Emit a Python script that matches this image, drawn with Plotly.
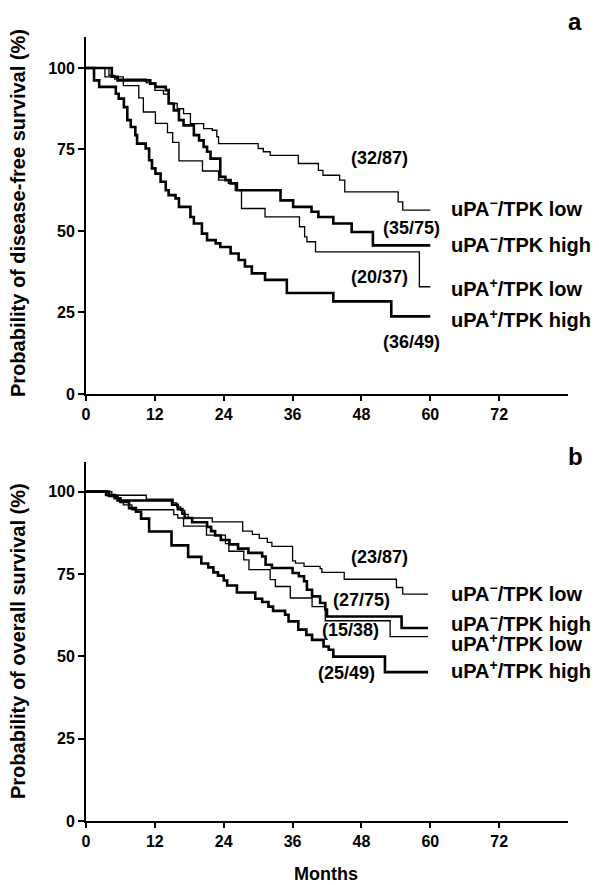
import plotly.graph_objects as go

# ---------------- DATA ----------------
# Panel a: disease-free survival (months, %)
a_neglow_t = [0, 4.0, 5.0, 10.5, 12.0, 13.5, 14.4, 15.9, 17.0, 18.2, 20.5, 22.0, 22.8, 23.1, 30.0, 30.9, 32.1, 37.0, 40.5, 41.3, 44.2, 45.1, 54.4, 55.2, 60.0]
a_neglow_s = [100, 97.7, 96.6, 95.4, 93.1, 92.0, 89.1, 87.5, 86.0, 82.9, 81.4, 80.9, 78.9, 76.8, 75.3, 74.3, 73.2, 70.7, 68.6, 67.1, 65.6, 62.0, 58.9, 56.4, 56.4]

a_neghigh_t = [0, 4.5, 5.5, 11.2, 12.1, 13.9, 14.4, 15.3, 16.2, 17.0, 18.8, 19.7, 20.5, 21.1, 21.7, 23.4, 24.3, 25.2, 26.3, 33.9, 36.1, 39.3, 40.5, 43.1, 46.3, 50.0, 60.0]
a_neghigh_s = [100, 97.3, 96.2, 95.2, 94.2, 93.2, 89.1, 87.0, 84.0, 82.4, 79.4, 77.8, 75.8, 74.3, 72.2, 66.6, 65.6, 64.6, 62.5, 59.4, 57.4, 55.9, 54.3, 52.3, 49.7, 45.6, 45.6]

a_poslow_t = [0, 3.3, 6.5, 9.2, 10.0, 12.1, 14.2, 15.1, 16.2, 20.3, 23.1, 24.8, 26.0, 27.1, 31.2, 37.2, 38.1, 38.5, 40.0, 58.1, 60.0]
a_poslow_s = [100, 97.3, 94.6, 90.8, 86.5, 83.0, 80.2, 77.2, 71.5, 68.4, 65.6, 64.6, 62.5, 56.9, 54.3, 51.3, 48.2, 46.7, 43.6, 32.9, 32.9]

a_poshigh_t = [0, 1.4, 2.3, 5.2, 5.7, 6.6, 7.2, 7.8, 8.6, 8.9, 10.4, 11.0, 11.5, 12.1, 13.0, 13.9, 14.4, 15.6, 16.2, 18.2, 18.8, 20.2, 21.1, 22.6, 23.4, 25.2, 26.6, 27.7, 28.9, 31.2, 35.0, 43.1, 53.2, 60.0]
a_poshigh_s = [100, 96.2, 94.2, 92.1, 90.6, 88.0, 84.0, 81.9, 79.4, 76.8, 75.3, 71.7, 69.2, 67.6, 65.1, 62.5, 61.0, 60.0, 57.4, 54.3, 52.3, 49.2, 47.2, 46.2, 45.1, 43.1, 41.1, 39.1, 37.0, 35.0, 31.0, 28.4, 23.8, 23.8]

# Panel b: overall survival (months, %)
b_neglow_t = [0, 4.0, 10.5, 15.2, 15.8, 16.5, 17.2, 17.8, 22.0, 27.3, 29.0, 30.2, 31.6, 32.4, 36.0, 36.5, 38.0, 40.8, 41.1, 45.0, 54.1, 55.2, 59.6]
b_neglow_s = [100, 98.9, 97.7, 96.6, 95.4, 94.3, 93.1, 92.0, 90.8, 88.0, 87.0, 85.8, 84.6, 83.4, 79.0, 78.3, 77.3, 76.6, 75.5, 73.4, 70.9, 68.9, 68.9]

b_neghigh_t = [0, 4.0, 5.5, 15.0, 16.0, 16.8, 17.2, 18.5, 21.1, 21.8, 22.5, 23.5, 25.0, 26.5, 28.3, 30.7, 31.3, 32.4, 36.0, 37.1, 38.0, 38.5, 39.4, 40.8, 41.7, 42.0, 55.0, 59.6]
b_neghigh_s = [100, 98.7, 97.3, 96.0, 94.7, 93.3, 92.0, 90.7, 89.3, 88.0, 86.7, 85.3, 84.0, 82.7, 81.4, 80.3, 77.8, 76.8, 75.3, 74.3, 72.8, 70.2, 68.2, 66.2, 64.2, 62.1, 58.6, 58.6]

b_poslow_t = [0, 4.5, 5.5, 6.5, 8.0, 15.3, 16.0, 17.0, 21.0, 24.3, 24.9, 27.5, 28.4, 32.1, 33.0, 35.6, 39.4, 41.7, 53.0, 59.6]
b_poslow_s = [100, 98.5, 97.3, 96.0, 94.5, 93.0, 92.0, 89.5, 86.8, 84.2, 81.9, 79.3, 76.3, 73.3, 71.2, 67.7, 65.1, 60.8, 56.0, 56.0]

b_poshigh_t = [0, 3.5, 5.0, 6.0, 7.5, 8.7, 9.6, 11.0, 14.9, 17.8, 20.1, 21.3, 22.2, 23.0, 24.0, 24.6, 26.3, 29.5, 30.7, 31.8, 32.6, 34.7, 35.3, 37.0, 38.4, 39.4, 41.4, 42.3, 43.1, 52.1, 59.6]
b_poshigh_s = [100, 99.0, 98.0, 96.9, 95.0, 93.9, 91.8, 87.9, 83.7, 80.2, 78.2, 77.0, 75.5, 74.5, 73.0, 71.5, 69.4, 67.5, 66.5, 65.1, 63.8, 62.6, 60.6, 58.1, 56.5, 55.0, 53.0, 52.0, 49.9, 45.2, 45.2]

group_labels = ["uPA<sup>−</sup>/TPK low", "uPA<sup>−</sup>/TPK high",
                "uPA<sup>+</sup>/TPK low", "uPA<sup>+</sup>/TPK high"]
a_counts = ["(32/87)", "(35/75)", "(20/37)", "(36/49)"]
b_counts = ["(23/87)", "(27/75)", "(15/38)", "(25/49)"]
x_ticks = [0, 12, 24, 36, 48, 60, 72]
y_ticks = [0, 25, 50, 75, 100]

# ---------------- STYLE / POSITIONS ----------------
widths = [1.3, 2.6, 1.3, 2.6]
a_label_y = [57.3, 46.3, 32.8, 23.3]
b_label_y = [69.3, 60.2, 54.1, 45.9]
a_count_pos = [(51.1, 72.3), (56.7, 50.9), (51.1, 35.8), (56.7, 15.9)]
b_count_pos = [(51.1, 80.2), (48.0, 67.2), (46.1, 58.1), (45.4, 45.0)]
label_x = 63.2

FONT = "Liberation Sans, Arial, sans-serif"

# page offset (browser body margin) compensation
OFF = 8
W_PAGE, H_PAGE = 599, 885
PL, PR, PT, PB = 86, 568, 37, 821          # plot area in page pixels
W, H = W_PAGE - OFF, H_PAGE - OFF
L, T = PL - OFF, PT - OFF
R, B = W_PAGE - PR, H_PAGE - PB
pw, ph = PR - PL, PB - PT


def px_x(p):
    return (p - PL) / pw


def px_y(p):
    return 1 - (p - PT) / ph


fig = go.Figure()

a_series = [(a_neglow_t, a_neglow_s), (a_neghigh_t, a_neghigh_s),
            (a_poslow_t, a_poslow_s), (a_poshigh_t, a_poshigh_s)]
b_series = [(b_neglow_t, b_neglow_s), (b_neghigh_t, b_neghigh_s),
            (b_poslow_t, b_poslow_s), (b_poshigh_t, b_poshigh_s)]

for (t, s), w in zip(a_series, widths):
    fig.add_trace(go.Scatter(x=t, y=s, mode="lines", line=dict(shape="hv", color="black", width=w),
                             xaxis="x", yaxis="y", showlegend=False, hoverinfo="skip"))
for (t, s), w in zip(b_series, widths):
    fig.add_trace(go.Scatter(x=t, y=s, mode="lines", line=dict(shape="hv", color="black", width=w),
                             xaxis="x2", yaxis="y2", showlegend=False, hoverinfo="skip"))


def bfont(size):
    return dict(size=size, family=FONT, color="black", weight="bold")


ann = []
for lab, yv in zip(group_labels, a_label_y):
    ann.append(dict(x=label_x, y=yv, xref="x", yref="y", text=lab, showarrow=False,
                    xanchor="left", yanchor="middle", font=bfont(20)))
for lab, yv in zip(group_labels, b_label_y):
    ann.append(dict(x=label_x, y=yv, xref="x2", yref="y2", text=lab, showarrow=False,
                    xanchor="left", yanchor="middle", font=bfont(20)))
for c, (xv, yv) in zip(a_counts, a_count_pos):
    ann.append(dict(x=xv, y=yv, xref="x", yref="y", text=c, showarrow=False,
                    xanchor="center", yanchor="middle", font=bfont(18)))
for c, (xv, yv) in zip(b_counts, b_count_pos):
    ann.append(dict(x=xv, y=yv, xref="x2", yref="y2", text=c, showarrow=False,
                    xanchor="center", yanchor="middle", font=bfont(18)))

ann.append(dict(x=px_x(18), y=px_y(213), xref="paper", yref="paper",
                text="Probability of disease-free survival (%)",
                textangle=-90, showarrow=False, xanchor="center", yanchor="middle", font=bfont(20)))
ann.append(dict(x=px_x(18), y=px_y(641), xref="paper", yref="paper",
                text="Probability of overall survival (%)",
                textangle=-90, showarrow=False, xanchor="center", yanchor="middle", font=bfont(20)))
ann.append(dict(x=px_x(326), y=px_y(874), xref="paper", yref="paper", text="Months", showarrow=False,
                xanchor="center", yanchor="middle", font=bfont(18)))
ann.append(dict(x=px_x(575), y=px_y(22), xref="paper", yref="paper", text="a", showarrow=False,
                xanchor="center", yanchor="middle", font=bfont(24)))
ann.append(dict(x=px_x(575), y=px_y(456), xref="paper", yref="paper", text="b", showarrow=False,
                xanchor="center", yanchor="middle", font=bfont(24)))

top_dom = [px_y(394), 1]
bot_dom = [0, px_y(462)]

xcommon = dict(range=[0, 84], tickvals=x_ticks, showline=True, linecolor="black", linewidth=1.8,
               ticks="outside", ticklen=5, tickwidth=1.6, tickcolor="black", showgrid=False, zeroline=False,
               tickfont=bfont(16), fixedrange=True)
ycommon = dict(tickvals=y_ticks, showline=True, linecolor="black", linewidth=1.8,
               ticks="outside", ticklen=6, tickwidth=1.6, tickcolor="black", showgrid=False, zeroline=False,
               tickfont=bfont(16), fixedrange=True)

fig.update_layout(
    width=W, height=H,
    margin=dict(l=L, r=R, t=T, b=B, autoexpand=False),
    paper_bgcolor="white", plot_bgcolor="white",
    xaxis=dict(domain=[0, 1], anchor="y", **xcommon),
    yaxis=dict(domain=top_dom, anchor="x", range=[0, 109.5], **ycommon),
    xaxis2=dict(domain=[0, 1], anchor="y2", **xcommon),
    yaxis2=dict(domain=bot_dom, anchor="x2", range=[0, 109], **ycommon),
    annotations=ann,
    showlegend=False,
)

fig.write_html("out.html")
